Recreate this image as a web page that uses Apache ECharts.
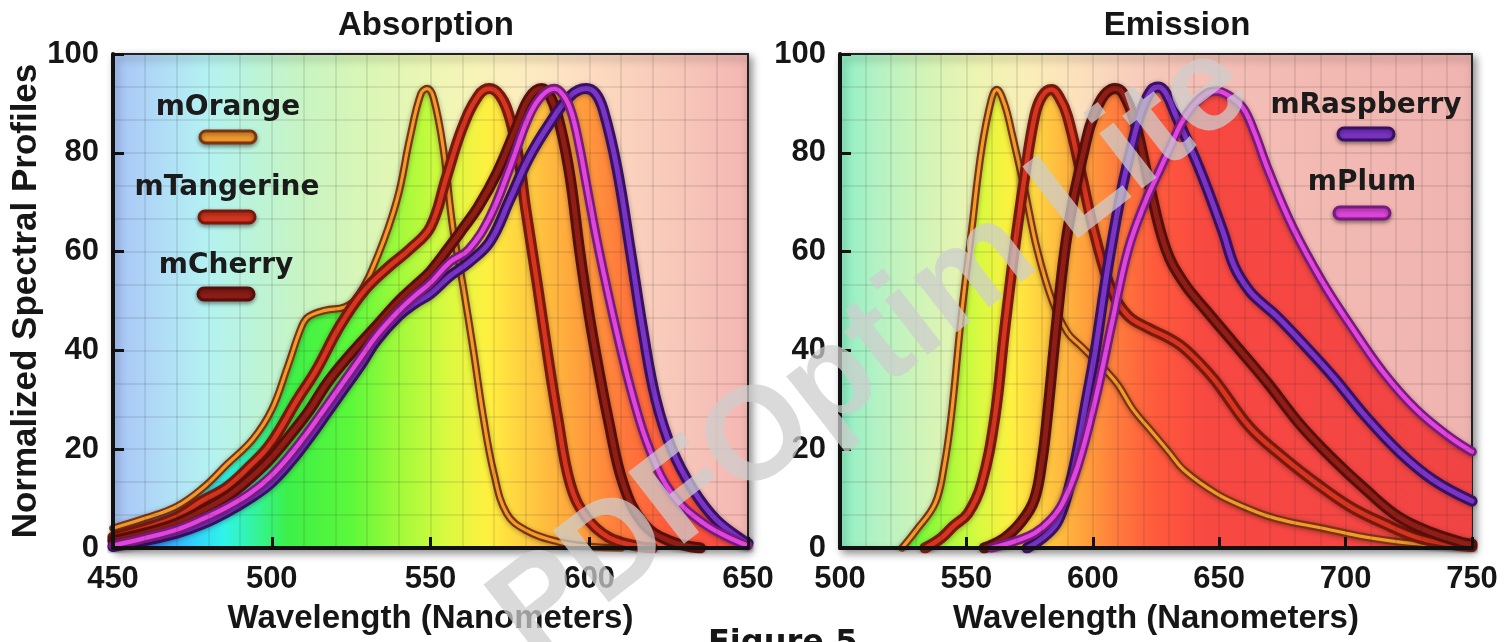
<!DOCTYPE html>
<html>
<head>
<meta charset="utf-8">
<script src="https://cdn.jsdelivr.net/npm/echarts@6/dist/echarts.min.js"></script>
<style>
html,body{margin:0;padding:0;background:#ffffff;}
#c{width:1512px;height:642px;}
</style>
</head>
<body>
<div id="c"></div>
<script>
// ---------------- DATA ----------------
const proteinNames = ['mOrange', 'mTangerine', 'mCherry', 'mRaspberry', 'mPlum'];

const absXTicks = [450, 500, 550, 600, 650];
const emXTicks = [500, 550, 600, 650, 700, 750];
const yTicks = [0, 20, 40, 60, 80, 100];

// Absorption spectra: [wavelength nm, normalized value]
const absOrange = [[450,4],[460,6],[470,8.4],[478,12],[486,17],[494,22],[500,28],[505,36.7],[509.4,44.8],[511.5,46.8],[516.8,48.1],[523,48.8],[527,50.8],[533.3,59],[539.5,70.6],[543.5,83],[547,92],[549,93],[551,91],[554,81],[557,65],[560,54],[563.5,40],[566.5,27],[570,15],[574,7],[580,3.6],[590,1.3],[600,0.3],[610,0]];
const absTangerine = [[450,2.2],[460,4],[470,6.3],[478,9.5],[486,12.4],[493,16.5],[499.5,21],[508,30],[514,36],[521.5,45],[529,52],[537,57],[543.5,60.5],[550,65],[555,75],[560,85],[565,91.5],[568.5,93],[572,91.5],[575,87],[578,78],[580,68.6],[583.5,54],[586.7,40],[590,26.6],[594,13],[599,6.3],[606,2.2],[615,0.4],[620,0]];
const absCherry = [[450,1.5],[460,3],[470,5],[478,7.5],[486,10.4],[493,14],[499.5,18],[506,23],[512,28],[517,33],[522.5,37.5],[528,41.5],[533,45],[540,50],[545,53],[550,56],[556,61],[560,64.5],[565,69],[571,76],[577,85],[581,91],[585,93],[588,91],[591,85],[594,75],[597,60],[600,47],[603,36],[606,26],[610.7,13],[617,5],[625,1.5],[635,0]];
const absRaspberry = [[450,0.3],[460,1.5],[470,3],[478,4.8],[486,7.3],[493,10],[499.5,13],[506,17.5],[512,22.5],[517,27],[522.5,32],[528,37],[533,42],[540,47],[545,49.5],[550,51.5],[556,55],[562,57.8],[568.7,62],[575,70.6],[581,79],[587.6,86],[594,91.5],[599,93],[602,92],[604.5,88.5],[608.7,77],[613,60],[617,43.6],[621,30],[626,20],[632.7,11.8],[640,5.7],[648.5,1.5],[650,1]];
const absPlum = [[450,0.5],[460,2],[470,3.7],[478,5.8],[486,8.3],[493,11],[499.5,14.4],[506,19],[512,24],[517,28.5],[522.5,33.5],[528,38.5],[533,43],[540,48],[545,51],[550,53.7],[556,57.8],[562,60.4],[568.7,67],[575,77],[581,87.4],[585,91.5],[589,93],[592,91.5],[594.5,88],[597,81],[599,74],[603,60.4],[608.7,43.6],[614,30],[619,20],[626,11],[636,5],[646,1.5],[650,0.5]];

// Emission spectra
const emOrange = [[524.5,0],[530,3.5],[537.6,9],[541,16],[544,26.6],[548,47],[552,64],[556,80.7],[560,91],[562,92.8],[565,90],[568,84],[573,72.6],[578,60.4],[584,50],[590,43.6],[595,41],[600,38.5],[605,36],[610,33],[616,28],[622.6,24],[630,19.5],[636,15.8],[649,11],[660,8.3],[669,6.5],[678,5.3],[689,4.2],[700,3],[708,2.2],[720,1.3],[730,0.8],[740,0.4],[750,0.2]];
const emTangerine = [[533.6,0],[540,2],[545,4.5],[550.6,7],[556,13],[561.3,26.6],[565,43.6],[569,60.4],[573,75],[577,87.4],[580,91.5],[583.7,92.8],[587,91],[590,87.4],[595.7,75],[601,63],[607.6,52],[614,47],[622,44.5],[630,42.5],[636,40.5],[643,37],[649,33.5],[662,24.5],[675,18.5],[688.7,13],[702,8.3],[715,5],[728,2.2],[741,0.8],[750,0.3]];
const emCherry = [[557,0],[565,2],[572,5.5],[577,10],[580,18],[582,26.6],[586,47],[590,64],[595.7,78.7],[602,89.5],[608.8,93],[612,92],[616.8,86],[622.6,73],[629,60.4],[636,53.7],[645,48],[655.6,41.6],[669,33.5],[682,25],[695,18],[708,11.8],[721,6.3],[734.6,3],[747,1],[750,0.8]];
const emRaspberry = [[574,0],[580,2],[585,4.5],[588,7.7],[591,13],[594,20],[597.5,30],[601,40],[606,57],[611.5,72.6],[616.7,84],[620,89.5],[623.4,92.8],[626,93.3],[629,92],[633,87.4],[642,77],[651.5,64],[656,57],[662,52],[667,49.5],[672.6,47],[682,42],[695,34.7],[708,26.6],[721.5,19.3],[734.6,13.8],[750,9.5]];
const emPlum = [[560,0],[570,1.5],[577,3],[583,5.5],[588,9],[594,16.5],[601,30],[607.6,45.6],[614,60.4],[620.7,70],[626,76],[630.5,81],[635,86],[639.6,89.5],[645,92],[649,92.5],[654,91.5],[659.5,89],[664,84],[669,77],[679,65],[691,53.7],[702,45],[715,35.5],[728,28],[741,22.5],[750,19.5]];

// ---------------- STYLE ----------------
const FONT = "'Liberation Sans', Arial, sans-serif";
const FONT2 = "'DejaVu Sans', sans-serif";
const TXT = '#161616';

const lineStyles = {
  mOrange:    {outline: '#7a3410', core: '#f29a2e', ow: 7.5,  cw: 3.2},
  mTangerine: {outline: '#7a180c', core: '#d63620', ow: 11,   cw: 4.6},
  mCherry:    {outline: '#5a0e0a', core: '#8e1e16', ow: 11,   cw: 5},
  mRaspberry: {outline: '#3a1064', core: '#7a34c6', ow: 11,   cw: 5},
  mPlum:      {outline: '#781a80', core: '#e046dc', ow: 9.5,  cw: 4.4}
};

// saturated spectral colours (fill under curves), by wavelength
const specStops = [[450,'#3a5cff'],[462,'#3a8cff'],[475,'#30d0ff'],[485,'#30f4e8'],[495,'#34f49a'],[505,'#3cf048'],[525,'#5cf83a'],[540,'#a0fa3a'],[555,'#d8fa40'],[568,'#fff040'],[582,'#ffc840'],[597,'#ffa03c'],[610,'#ff7a3c'],[625,'#ff5a3c'],[645,'#f84842'],[750,'#f04444']];
// pale background colours per panel
const paleLeft = [[450,'#a8c2f6'],[465,'#b0dcf6'],[480,'#b4f2f2'],[495,'#bcf4d8'],[510,'#c8f4c2'],[530,'#daf6b6'],[550,'#ecf6b4'],[565,'#f8f4b8'],[580,'#fcecc0'],[595,'#fde0c2'],[615,'#fad0bc'],[635,'#f6c2b8'],[650,'#f4b6b2']];
const paleRight = [[500,'#8cf0c4'],[515,'#b4f2c4'],[535,'#d4f4b6'],[555,'#eef4b2'],[575,'#faeeb8'],[595,'#fce0bc'],[615,'#f8cebc'],[640,'#f4c0b6'],[700,'#f2b8b2'],[750,'#f0b4b0']];

function relGradient(stops, lo, hi) {
  return {type:'linear', x:0, y:0, x2:1, y2:0,
    colorStops: stops.map(s => ({offset:(s[0]-lo)/(hi-lo), color:s[1]}))};
}

const absSets = [absOrange, absTangerine, absCherry, absRaspberry, absPlum];
const emSets = [emOrange, emTangerine, emCherry, emRaspberry, emPlum];

const gridLine = {show:true, lineStyle:{color:'rgba(40,40,40,0.10)', width:2}};

function xAxisCfg(gi, ticks) {
  return {gridIndex:gi, type:'value', min:ticks[0], max:ticks[ticks.length-1], interval:50, z:3,
    name:'Wavelength (Nanometers)', nameLocation:'middle', nameGap:54,
    nameTextStyle:{fontFamily:FONT, fontWeight:'bold', fontSize:33, color:TXT},
    axisLine:{show:true, onZero:false, lineStyle:{color:'#111', width:4}},
    axisTick:{show:true, inside:true, length:11, lineStyle:{color:'#111', width:3}},
    axisLabel:{margin:16, fontFamily:FONT, fontWeight:'bold', fontSize:31, color:TXT, showMinLabel:true, showMaxLabel:true},
    splitLine:gridLine, minorTick:{show:false, splitNumber:5}, minorSplitLine:gridLine};
}
function yAxisCfg(gi, name) {
  return {gridIndex:gi, type:'value', min:yTicks[0], max:yTicks[yTicks.length-1], interval:20, z:3,
    name:name, nameLocation:'middle', nameGap:64, nameRotate:90,
    nameTextStyle:{fontFamily:FONT, fontWeight:'bold', fontSize:35, color:TXT},
    axisLine:{show:true, onZero:false, lineStyle:{color:'#111', width:4}},
    axisTick:{show:true, inside:true, length:11, lineStyle:{color:'#111', width:3}},
    axisLabel:{margin:14, fontFamily:FONT, fontWeight:'bold', fontSize:31, color:TXT},
    splitLine:gridLine, minorTick:{show:false, splitNumber:3}, minorSplitLine:gridLine};
}

const gridCommon = {show:true, borderColor:'#222', borderWidth:2, shadowBlur:8,
  shadowColor:'rgba(0,0,0,0.45)', shadowOffsetX:3, shadowOffsetY:4, containLabel:false, outerBoundsMode:'none'};

function buildSeries(gi, sets) {
  const out = [];
  sets.forEach((d, i) => {
    out.push({id:'area'+gi+'_'+i, type:'line', xAxisIndex:gi, yAxisIndex:gi, data:d, smooth:0.4,
      showSymbol:false, symbol:'none', silent:true, z:1,
      lineStyle:{width:0, opacity:0}, areaStyle:{opacity:1, color:'#ffcc44'}});
  });
  sets.forEach((d, i) => {
    const st = lineStyles[proteinNames[i]];
    out.push({id:'out'+gi+'_'+i, name:proteinNames[i], type:'line', xAxisIndex:gi, yAxisIndex:gi, data:d, smooth:0.4,
      showSymbol:false, symbol:'none', silent:true, z:2,
      lineStyle:{width:st.ow, color:st.outline, shadowBlur:5, shadowColor:'rgba(0,0,0,0.35)', shadowOffsetY:1, cap:'round', join:'round'}});
    out.push({id:'core'+gi+'_'+i, name:proteinNames[i], type:'line', xAxisIndex:gi, yAxisIndex:gi, data:d, smooth:0.4,
      showSymbol:false, symbol:'none', silent:true, z:2,
      lineStyle:{width:st.cw, color:st.core, cap:'round', join:'round'}});
  });
  return out;
}

// legend layout (decoration)
const legendLayout = [
  {name:'mOrange',    cx:228,  ty:108, py:137},
  {name:'mTangerine', cx:227,  ty:188, py:217},
  {name:'mCherry',    cx:226,  ty:266, py:294},
  {name:'mRaspberry', cx:1366, ty:106, py:134},
  {name:'mPlum',      cx:1362, ty:183, py:213}
];

const graphics = [];
legendLayout.forEach(l => {
  const st = lineStyles[l.name];
  graphics.push({type:'text', x:l.cx, y:l.ty, z:50,
    style:{text:l.name, fontFamily:FONT2, fontWeight:'bold', fontSize:28, fill:'#1b1b1b',
      align:'center', verticalAlign:'middle', textAlign:'center', textVerticalAlign:'middle'}});
  graphics.push({type:'rect', z:50, shape:{x:l.cx-28, y:l.py-6, width:56, height:12, r:6},
    style:{fill:st.core, stroke:st.outline, lineWidth:3, shadowBlur:4, shadowColor:'rgba(0,0,0,0.4)', shadowOffsetY:2}});
});
graphics.push({type:'text', x:708, y:628, z:50,
  style:{text:'Figure 5', fontFamily:FONT2, fontWeight:'bold', fontSize:32, fill:TXT,
    align:'left', verticalAlign:'top', textAlign:'left', textVerticalAlign:'top'}});
graphics.push({type:'text', x:872, y:352, rotation:0.66, z:100,
  style:{text:'PDFOptim Lite', fontFamily:FONT, fontWeight:'bold', fontSize:132, fill:'rgba(205,205,205,0.74)',
    align:'center', verticalAlign:'middle', textAlign:'center', textVerticalAlign:'middle'}});

const chart = echarts.init(document.getElementById('c'), null, {renderer:'canvas'});

const option = {
  animation:false,
  backgroundColor:'#ffffff',
  title:[
    {text:'Absorption', left:421, top:4, textAlign:'center',
      textStyle:{fontFamily:FONT, fontWeight:'bold', fontSize:33, color:TXT}},
    {text:'Emission', left:1172, top:4, textAlign:'center',
      textStyle:{fontFamily:FONT, fontWeight:'bold', fontSize:33, color:TXT}}
  ],
  grid:[
    Object.assign({left:113, top:54, width:635, height:494,
      backgroundColor:relGradient(paleLeft, absXTicks[0], absXTicks[absXTicks.length-1])}, gridCommon),
    Object.assign({left:840, top:54, width:632, height:494,
      backgroundColor:relGradient(paleRight, emXTicks[0], emXTicks[emXTicks.length-1])}, gridCommon)
  ],
  xAxis:[xAxisCfg(0, absXTicks), xAxisCfg(1, emXTicks)],
  yAxis:[yAxisCfg(0, 'Normalized Spectral Profiles'), yAxisCfg(1, '')],
  series: buildSeries(0, absSets).concat(buildSeries(1, emSets)),
  graphic: graphics
};
chart.setOption(option);

// spectral fill in global pixel coordinates, from the axes' own scales
const specLo = specStops[0][0], specHi = specStops[specStops.length-1][0];
const upd = [];
[0, 1].forEach(gi => {
  const p0 = chart.convertToPixel({gridIndex:gi}, [specLo, 0]);
  const p1 = chart.convertToPixel({gridIndex:gi}, [specHi, 0]);
  const grad = {type:'linear', x:p0[0], y:0, x2:p1[0], y2:0, global:true,
    colorStops: specStops.map(s => ({offset:(s[0]-specLo)/(specHi-specLo), color:s[1]}))};
  for (let i = 0; i < proteinNames.length; i++) {
    upd.push({id:'area'+gi+'_'+i, areaStyle:{opacity:1, color:grad}});
  }
});
chart.setOption({series:upd});
</script>
</body>
</html>
